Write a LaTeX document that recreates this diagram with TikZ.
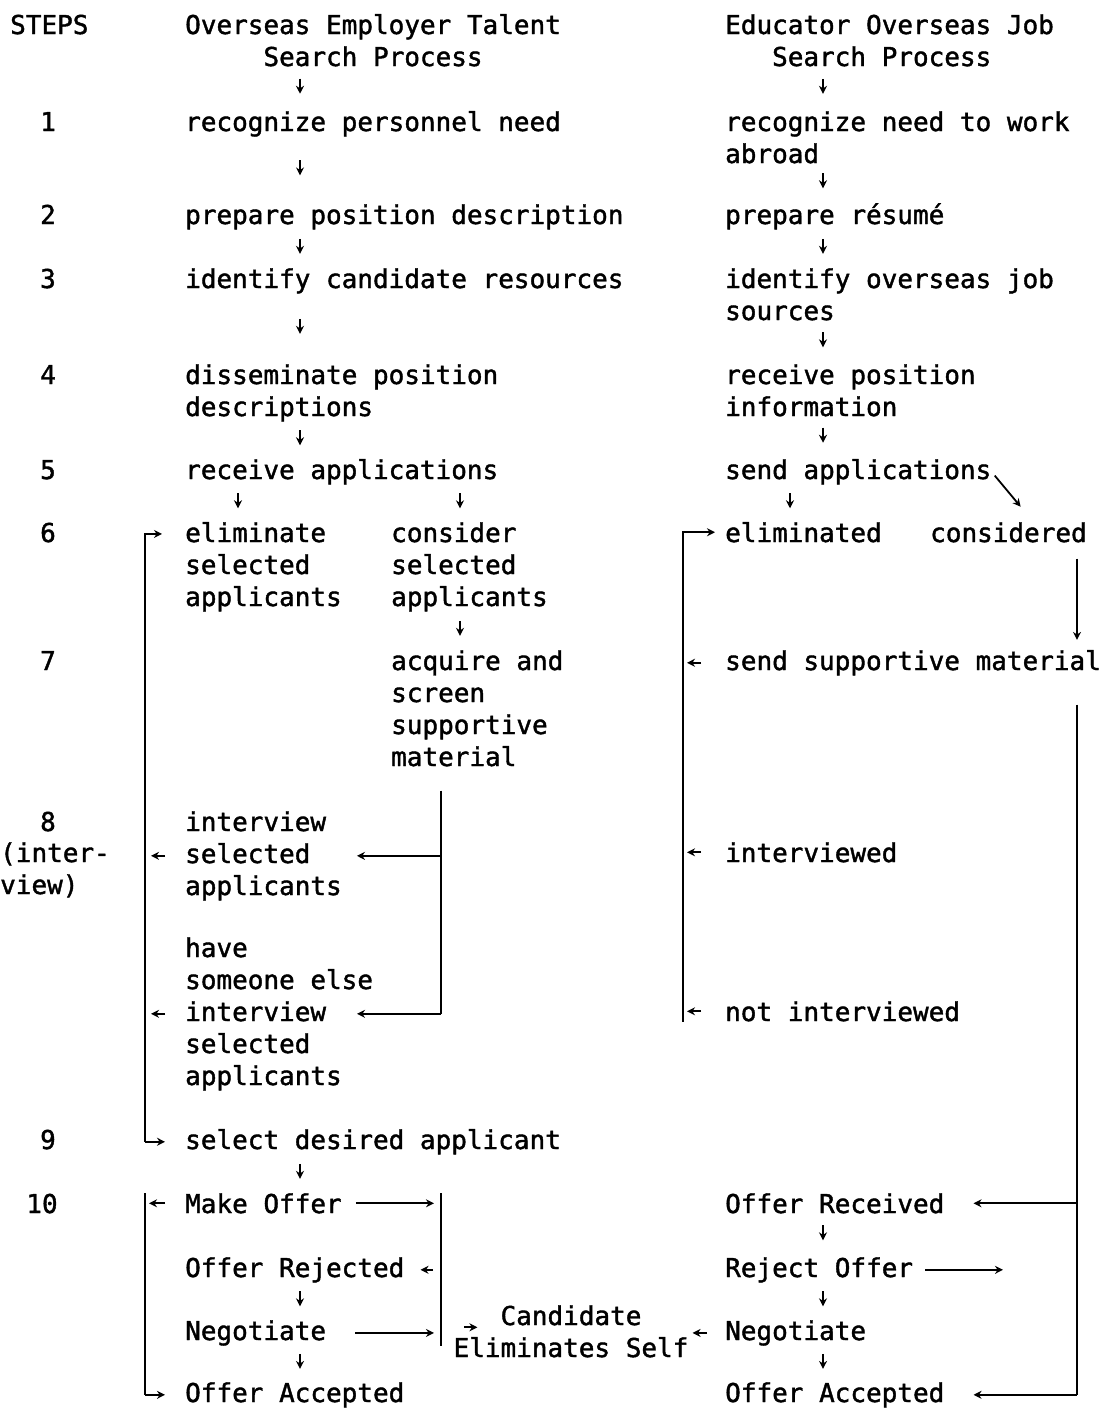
\documentclass[tikz,border=0pt]{standalone}
\usepackage{fontspec}
\usepackage{tikz}
\usetikzlibrary{arrows.meta,calc}
\newfontfamily\typefont[FakeBold=1.5]{DejaVu Sans Mono}

% short arrow halfway between two stacked entries
\newcommand{\flowtick}[3]{%
  \path ($(#1.south)!0.5!(#2.north)$) coordinate (tickmid);
  \draw[flow] (tickmid -| #3) ++(0,-10) -- ++(0,15);
}

\begin{document}
\begin{tikzpicture}[x=1pt, y=-1pt,
    entry/.style={font=\typefont\fontsize{26}{32}\selectfont, inner sep=0pt, anchor=base west, align=left},
    stepno/.style={entry, anchor=base, align=center},
    flow/.style={line width=1.8pt, -{Stealth[length=8pt,width=8pt]}},
    bus/.style={line width=1.8pt}]
  \useasboundingbox (0,0) rectangle (1106,1409);

  % column guides
  \coordinate (axL) at (300,0);
  \coordinate (axE) at (238,0);
  \coordinate (axC) at (460,0);
  \coordinate (axR) at (823,0);
  \coordinate (axRE) at (790,0);
  \coordinate (busL) at (145,0);
  \coordinate (busM) at (441,0);
  \coordinate (busR) at (683,0);
  \coordinate (busRR) at (1077,0);
  \coordinate (rejEnd) at (1003,0);

  % headings (multi-line nodes sit on their last line)
  \node[entry] (steps) at (10,34) {STEPS};
  \node[entry] (hdrL) at (185,66) {Overseas Employer Talent\\\hphantom{00000}Search Process};
  \node[entry] (hdrR) at (725,66) {Educator Overseas Job\\\hphantom{000}Search Process};

  % step numbers
  \node[stepno] (s1) at (48,131) {1};
  \node[stepno] (s2) at (48,224) {2};
  \node[stepno] (s3) at (48,288) {3};
  \node[stepno] (s4) at (48,384) {4};
  \node[stepno] (s5) at (48,479) {5};
  \node[stepno] (s6) at (48,542) {6};
  \node[stepno] (s7) at (48,670) {7};
  \node[stepno] (s8) at (48,831) {8};
  \node[entry] (s8note) at (0,894) {(inter-\\view)};
  \node[stepno] (s9) at (48,1149) {9};
  \node[stepno] (s10) at (42,1213) {10};

  % employer side
  \node[entry] (recL) at (185,131) {recognize personnel need};
  \node[entry] (prepL) at (185,224) {prepare position description};
  \node[entry] (identL) at (185,288) {identify candidate resources};
  \node[entry] (dissL) at (185,416) {disseminate position\\descriptions};
  \node[entry] (recvL) at (185,479) {receive applications};
  \node[entry] (elimL) at (185,606) {eliminate\\selected\\applicants};
  \node[entry] (consL) at (391,606) {consider\\selected\\applicants};
  \node[entry] (acqL) at (391,766) {acquire and\\screen\\supportive\\material};
  \node[entry] (intA) at (185,895) {interview\\selected\\applicants};
  \node[entry] (intB) at (185,1085) {have\\someone else\\interview\\selected\\applicants};
  \node[entry] (selL) at (185,1149) {select desired applicant};
  \node[entry] (offerL) at (185,1213) {Make Offer};
  \node[entry] (rejL) at (185,1277) {Offer Rejected};
  \node[entry] (negL) at (185,1340) {Negotiate};
  \node[entry] (accL) at (185,1402) {Offer Accepted};
  \node[entry, anchor=base, align=center] (cand) at (571,1357) {Candidate\\Eliminates Self};

  % educator side
  \node[entry] (recR) at (725,163) {recognize need to work\\abroad};
  \node[entry] (prepR) at (725,224) {prepare résumé};
  \node[entry] (identR) at (725,320) {identify overseas job\\sources};
  \node[entry] (recvR) at (725,416) {receive position\\information};
  \node[entry] (sendR) at (725,479) {send applications};
  \node[entry] (elimR) at (725,542) {eliminated};
  \node[entry] (consR) at (930,542) {considered};
  \node[entry] (suppR) at (725,670) {send supportive material};
  \node[entry] (intvR) at (725,862) {interviewed};
  \node[entry] (notintR) at (725,1021) {not interviewed};
  \node[entry] (recvOffR) at (725,1213) {Offer Received};
  \node[entry] (rejR) at (725,1277) {Reject Offer};
  \node[entry] (negR) at (725,1340) {Negotiate};
  \node[entry] (accR) at (725,1402) {Offer Accepted};

  % step to step arrows
  \flowtick{hdrL}{recL}{axL}
  \flowtick{recL}{prepL}{axL}
  \flowtick{prepL}{identL}{axL}
  \flowtick{identL}{dissL}{axL}
  \flowtick{dissL}{recvL}{axL}
  \flowtick{recvL}{elimL}{axE}
  \flowtick{recvL}{consL}{axC}
  \flowtick{consL}{acqL}{axC}
  \flowtick{selL}{offerL}{axL}
  \flowtick{rejL}{negL}{axL}
  \flowtick{negL}{accL}{axL}
  \flowtick{hdrR}{recR}{axR}
  \flowtick{recR}{prepR}{axR}
  \flowtick{prepR}{identR}{axR}
  \flowtick{identR}{recvR}{axR}
  \flowtick{recvR}{sendR}{axR}
  \flowtick{sendR}{elimR}{axRE}
  \flowtick{recvOffR}{rejR}{axR}
  \flowtick{rejR}{negR}{axR}
  \flowtick{negR}{accR}{axR}
  \draw[flow, shorten <=5, shorten >=20] (sendR.east) -- ([xshift=25]consR.north);

  % employer loop: interviews back to steps 6 and 9
  \draw[flow] (busL |- selL.west) |- ([shift={(-23,12)}]elimL.north west);
  \draw[flow] (busL |- selL.west) -- ([xshift=-20]selL.west);
  \draw[flow] ([xshift=-20]intA.west) -- ([xshift=-34]intA.west);
  \draw[flow] ([xshift=-20]intB.west) -- ([xshift=-34]intB.west);
  \draw[bus] (acqL.south west) ++(50,24) -- (busM |- intB.west);
  \draw[flow, shorten >=15] (busM |- intA.east) -- (intA.east);
  \draw[flow] (busM |- intB.west) -- ([xshift=172]intB.west);

  % employer offer loop
  \draw[flow, shorten >=4] ([xshift=-20]offerL.west) -- (busL |- offerL.west);
  \draw[bus] (busL |- offerL.north) -- (busL |- accL.west);
  \draw[flow] (busL |- accL.west) -- ([xshift=-20]accL.west);
  \draw[bus] (busM |- offerL.north) -- (busM |- negL.south);
  \draw[flow, shorten <=14, shorten >=7] (offerL.east) -- (busM |- offerL.east);
  \draw[flow, shorten <=8] (busM |- rejL.east) -- ([xshift=16]rejL.east);
  \draw[flow, shorten <=29, shorten >=7] (negL.east) -- (busM |- negL.east);
  \draw[flow, shorten <=23] ([yshift=4]busM |- cand.west) -- ([shift={(24,-4)}]cand.west);

  % educator loops
  \draw[flow] (busR |- notintR.south) |- ([xshift=-10]elimR.west);
  \draw[flow] ([xshift=-24]suppR.west) -- ([xshift=-38]suppR.west);
  \draw[flow] ([xshift=-24]intvR.west) -- ([xshift=-38]intvR.west);
  \draw[flow] ([xshift=-24]notintR.west) -- ([xshift=-38]notintR.west);
  \draw[flow, shorten <=16, shorten >=10] (busRR |- consR.south) -- (busRR |- suppR.north);
  \draw[bus, shorten <=29] (busRR |- suppR.south) -- (busRR |- accR.east);
  \draw[flow, shorten >=29] (busRR |- recvOffR.east) -- (recvOffR.east);
  \draw[flow, shorten >=29] (busRR |- accR.east) -- (accR.east);
  \draw[flow, shorten <=12] (rejR.east) -- (rejR.east -| rejEnd);
  \draw[flow, shorten <=18, shorten >=4] (negR.west) -- (cand.east |- negR.west);
\end{tikzpicture}
\end{document}
